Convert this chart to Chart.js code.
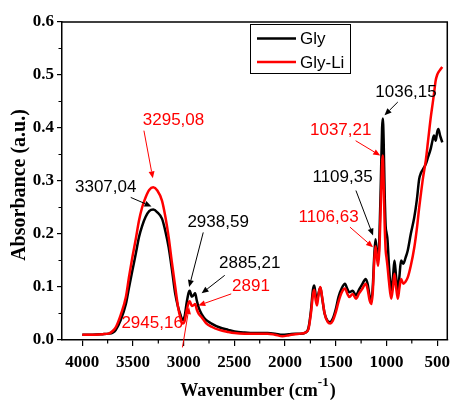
<!DOCTYPE html>
<html>
<head>
<meta charset="utf-8">
<script src="https://cdn.jsdelivr.net/npm/chart.js@4.4.0/dist/chart.umd.min.js"></script>
<style>
html,body{margin:0;padding:0;background:#fff;}
canvas{display:block;}
</style>
</head>
<body>
<canvas id="c" width="456" height="402"></canvas>
<script>
// ---- data ----
const wavenumbers = [4000,3900,3800,3740,3700,3670,3620,3570,3540,3506,3470,3441,3410,3376,3340,3300,3260,3214,3180,3148,3115,3083,3055,3034,3010,2990,2970,2950,2940,2920,2900,2887,2870,2850,2823,2780,2725,2650,2560,2498,2400,2300,2173,2100,2026,1960,1900,1848,1800,1770,1745,1725,1712,1698,1685,1670,1652,1635,1610,1580,1555,1530,1500,1473,1440,1409,1385,1366,1333,1301,1270,1240,1204,1185,1165,1148,1135,1120,1108,1095,1083,1070,1055,1043,1036,1028,1018,1008,1000,990,975,953,935,921,905,888,872,856,833,812,790,760,725,700,677,660,640,612,590,563,545,531,514,500,488,470,449];
const glyValues = [0.010,0.010,0.011,0.012,0.014,0.019,0.038,0.068,0.098,0.131,0.165,0.194,0.215,0.232,0.243,0.246,0.241,0.229,0.205,0.175,0.132,0.087,0.062,0.049,0.038,0.045,0.071,0.090,0.093,0.082,0.085,0.088,0.074,0.060,0.049,0.038,0.031,0.024,0.019,0.016,0.014,0.013,0.013,0.012,0.010,0.011,0.012,0.012,0.014,0.022,0.055,0.095,0.103,0.085,0.075,0.088,0.099,0.080,0.050,0.036,0.034,0.040,0.058,0.081,0.098,0.106,0.096,0.090,0.093,0.084,0.095,0.105,0.115,0.105,0.082,0.075,0.100,0.160,0.190,0.165,0.150,0.190,0.300,0.400,0.418,0.380,0.280,0.215,0.203,0.190,0.140,0.093,0.120,0.150,0.120,0.093,0.120,0.150,0.144,0.155,0.169,0.200,0.232,0.265,0.304,0.315,0.322,0.332,0.345,0.361,0.377,0.386,0.376,0.392,0.398,0.385,0.373];
const glyLiValues = [0.010,0.010,0.011,0.012,0.017,0.024,0.048,0.081,0.118,0.156,0.193,0.225,0.250,0.269,0.283,0.288,0.282,0.263,0.232,0.194,0.145,0.100,0.062,0.043,0.031,0.036,0.056,0.071,0.073,0.064,0.066,0.068,0.057,0.049,0.043,0.032,0.025,0.019,0.015,0.013,0.012,0.012,0.012,0.010,0.007,0.009,0.011,0.012,0.014,0.020,0.050,0.085,0.095,0.075,0.065,0.085,0.100,0.082,0.050,0.034,0.031,0.036,0.052,0.072,0.090,0.097,0.087,0.081,0.087,0.078,0.088,0.096,0.106,0.095,0.074,0.068,0.090,0.150,0.177,0.158,0.140,0.170,0.260,0.335,0.348,0.300,0.220,0.170,0.156,0.140,0.110,0.078,0.100,0.125,0.100,0.078,0.098,0.115,0.106,0.110,0.118,0.140,0.175,0.210,0.250,0.276,0.305,0.339,0.375,0.420,0.445,0.465,0.490,0.500,0.505,0.510,0.515];
const seriesNames = ["Gly", "Gly-Li"];
const xTickValues = [4000,3500,3000,2500,2000,1500,1000,500];
const xMinorValues = [3750,3250,2750,2250,1750,1250,750];
const yTickValues = [0,0.1,0.2,0.3,0.4,0.5,0.6];
const yMinorValues = [0.05,0.15,0.25,0.35,0.45,0.55];
const peakLabels = [
  {text:"3295,08", color:"#ff0000", at:[3100,0.414], from:[3392,0.395], to:[3304,0.305]},
  {text:"3307,04", color:"#000000", at:[3769,0.288], from:[3522,0.269], to:[3317,0.252]},
  {text:"2938,59", color:"#000000", at:[2660,0.222], from:[2807,0.203], to:[2946,0.100]},
  {text:"2885,21", color:"#000000", at:[2348,0.144], from:[2595,0.122], to:[2823,0.088]},
  {text:"2891",    color:"#ff0000", at:[2336,0.101], from:[2531,0.087], to:[2856,0.065]},
  {text:"2945,16", color:"#ff0000", at:[3311,0.031], from:[3012,-0.014], to:[2946,0.062]},
  {text:"1036,15", color:"#000000", at:[807,0.468],  from:[888,0.449],  to:[1019,0.424]},
  {text:"1037,21", color:"#ff0000", at:[1451,0.395], from:[1304,0.376], to:[1061,0.348]},
  {text:"1109,35", color:"#000000", at:[1433,0.307], from:[1301,0.282], to:[1132,0.197]},
  {text:"1106,63", color:"#ff0000", at:[1571,0.232], from:[1360,0.213], to:[1132,0.175]}
];

const tickFont = {family:"'Liberation Serif', 'Times New Roman', serif", size:17, weight:"bold"};

function arrow(ctx, x1, y1, x2, y2, color){
  ctx.save();
  ctx.strokeStyle = color; ctx.fillStyle = color; ctx.lineWidth = 1;
  const ang = Math.atan2(y2-y1, x2-x1);
  const hl = 7, hw = 3;
  const bx = x2 - hl*Math.cos(ang), by = y2 - hl*Math.sin(ang);
  ctx.beginPath(); ctx.moveTo(x1,y1); ctx.lineTo(bx,by); ctx.stroke();
  ctx.beginPath();
  ctx.moveTo(x2,y2);
  ctx.lineTo(bx + hw*Math.sin(ang), by - hw*Math.cos(ang));
  ctx.lineTo(bx - hw*Math.sin(ang), by + hw*Math.cos(ang));
  ctx.closePath(); ctx.fill();
  ctx.restore();
}

const decorPlugin = {
  id: 'decor',
  afterDraw(chart){
    const ctx = chart.ctx, a = chart.chartArea;
    const xs = chart.scales.x, ys = chart.scales.y;
    ctx.save();
    // frame (top/right)
    ctx.strokeStyle = '#000'; ctx.lineWidth = 1.5;
    ctx.beginPath();
    ctx.moveTo(a.left, a.top); ctx.lineTo(a.right, a.top); ctx.lineTo(a.right, a.bottom);
    ctx.stroke();
    // minor ticks
    ctx.lineWidth = 1.2;
    ctx.beginPath();
    xMinorValues.forEach(v => { const px = xs.getPixelForValue(v); ctx.moveTo(px, a.bottom); ctx.lineTo(px, a.bottom+3.5); });
    yMinorValues.forEach(v => { const py = ys.getPixelForValue(v); ctx.moveTo(a.left, py); ctx.lineTo(a.left-3.5, py); });
    ctx.stroke();
    // legend
    const lx = a.left + 188, ly = a.top + 2, lw = 100, lh = 49;
    ctx.fillStyle = '#fff'; ctx.fillRect(lx, ly, lw, lh);
    ctx.lineWidth = 1; ctx.strokeStyle = '#000';
    ctx.strokeRect(lx+0.5, ly+0.5, lw, lh);
    const colors = ['#000000', '#ff0000'];
    ctx.font = "17px 'Liberation Sans', Arial, sans-serif";
    ctx.textBaseline = 'middle'; ctx.textAlign = 'left';
    seriesNames.forEach((n, i) => {
      const yy = ly + 14.5 + i*23.5;
      ctx.strokeStyle = colors[i]; ctx.lineWidth = 2.5;
      ctx.beginPath(); ctx.moveTo(lx+7, yy); ctx.lineTo(lx+46, yy); ctx.stroke();
      ctx.fillStyle = '#000'; ctx.fillText(n, lx+50, yy+1);
    });
    // peak labels
    ctx.font = "17px 'Liberation Sans', Arial, sans-serif";
    ctx.textAlign = 'center'; ctx.textBaseline = 'middle';
    peakLabels.forEach(p => {
      ctx.fillStyle = p.color;
      ctx.fillText(p.text, xs.getPixelForValue(p.at[0]), ys.getPixelForValue(p.at[1]));
      arrow(ctx, xs.getPixelForValue(p.from[0]), ys.getPixelForValue(p.from[1]),
                 xs.getPixelForValue(p.to[0]), ys.getPixelForValue(p.to[1]), p.color);
    });
    // y title
    ctx.fillStyle = '#000';
    ctx.save();
    ctx.translate(20, (a.top + a.bottom)/2 + 4);
    ctx.rotate(-Math.PI/2);
    ctx.font = "bold 20px 'Liberation Serif', 'Times New Roman', serif";
    ctx.textAlign = 'center'; ctx.textBaseline = 'middle';
    ctx.fillText('Absorbance (a.u.)', 0, 0);
    ctx.restore();
    // x title with superscript
    const main = 'Wavenumber (cm', sup = '-1', close = ')';
    const fMain = "bold 18px 'Liberation Serif', 'Times New Roman', serif";
    const fSup = "bold 13px 'Liberation Serif', 'Times New Roman', serif";
    ctx.font = fMain; const w1 = ctx.measureText(main).width, w3 = ctx.measureText(close).width;
    ctx.font = fSup; const w2 = ctx.measureText(sup).width;
    const total = w1 + w2 + w3;
    let x0 = 257.5 - total/2; const by = 396;
    ctx.textAlign = 'left'; ctx.textBaseline = 'alphabetic';
    ctx.font = fMain; ctx.fillText(main, x0, by);
    ctx.font = fSup; ctx.fillText(sup, x0 + w1, by - 10);
    ctx.font = fMain; ctx.fillText(close, x0 + w1 + w2 + 1, by);
    ctx.restore();
  }
};

new Chart(document.getElementById('c'), {
  type: 'line',
  data: {
    datasets: [
      {label: seriesNames[0], data: wavenumbers.map((w,i)=>({x:w, y:glyValues[i]})), borderColor:'#000000', borderWidth:2.5, pointRadius:0, order:2, cubicInterpolationMode:'monotone', fill:false},
      {label: seriesNames[1], data: wavenumbers.map((w,i)=>({x:w, y:glyLiValues[i]})), borderColor:'#ff0000', borderWidth:2.5, pointRadius:0, order:1, cubicInterpolationMode:'monotone', fill:false}
    ]
  },
  options: {
    responsive: false,
    animation: false,
    devicePixelRatio: 1,
    layout: {padding: {top:22, right:4, left:0, bottom:0}},
    plugins: {legend:{display:false}, tooltip:{enabled:false}, title:{display:false}},
    scales: {
      x: {
        type:'linear', min:400, max:4200, reverse:true,
        afterBuildTicks: s => { s.ticks = xTickValues.map(v=>({value:v})); },
        afterFit: s => { s.height = 62; },
        ticks: {font: tickFont, color:'#000', padding:6, maxRotation:0, autoSkip:false, callback: v => String(v)},
        grid: {drawOnChartArea:false, drawTicks:true, tickLength:6, color:'#000', lineWidth:1.2},
        border: {display:true, color:'#000', width:1.5},
        title: {display:false}
      },
      y: {
        type:'linear', min:0, max:0.6,
        afterBuildTicks: s => { s.ticks = yTickValues.map(v=>({value:v})); },
        afterFit: s => { s.width = 62; },
        ticks: {font: tickFont, color:'#000', padding:3, autoSkip:false, callback: v => v.toFixed(1)},
        grid: {drawOnChartArea:false, drawTicks:true, tickLength:5, color:'#000', lineWidth:1.2},
        border: {display:true, color:'#000', width:1.5},
        title: {display:false}
      }
    }
  },
  plugins: [decorPlugin]
});
</script>
</body>
</html>
